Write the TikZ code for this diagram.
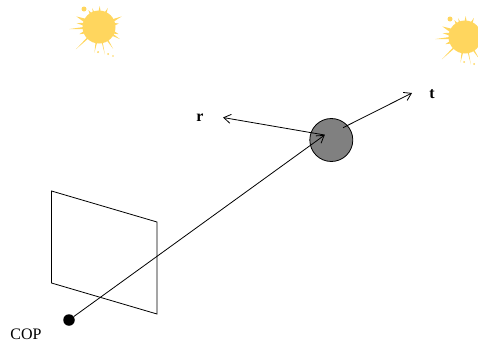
\documentclass[tikz,border=0pt]{standalone}
\usepackage{fontspec}
\setmainfont{Liberation Serif}
\usepackage{xcolor}
\usetikzlibrary{arrows.meta,positioning}
\definecolor{Ink}{HTML}{000000}
\definecolor{Sun}{HTML}{FFD65E}
\definecolor{Ball}{HTML}{808080}

\begin{document}
\begin{tikzpicture}[
    x=1pt, y=-1pt,
    label/.style={inner sep=0pt, font=\fontsize{16}{16}\selectfont},
    ray/.style={-{Straight Barb[length=7pt,width=9pt]}, line width=0.8pt, draw=Ink},
    plane/.style={draw=Ink, line width=0.8pt},
    sphere/.style={circle, draw=Ink, fill=Ball, line width=0.8pt, minimum size=43pt, inner sep=0pt},
    copdot/.style={circle, fill=Ink, minimum size=11.5pt, inner sep=0pt},
    splat/.pic={
      \fill[Sun] (0,0) circle (16.5);
      \foreach \ang/\len/\wid in {176/30/4, 136/32/3, 100/26/3, 78/28/2, 57/26/3, 30/24/4, 335/25/5, 272/21/4, 238/20/4, 205/25/7, 190/23/5, 295/21/4, 250/20/3, 160/21/5, 20/21/5, 350/20/5}
        \fill[Sun] (\ang-\wid:15.5) -- (\ang:\len) -- (\ang+\wid:15.5) -- cycle;
      \fill[Sun] (-15,-18) circle (2.5);
      \fill[Sun] (9,27) circle (1);
      \fill[Sun] (14,29) circle (0.8);
      \fill[Sun] (-1,25) circle (1);
    }
  ]
    \useasboundingbox (0,0) rectangle (478,343);

    \pic at (99,27) {splat};
    \pic at (465,37) {splat};

    \draw[plane] (51.5,191) -- (157,222) -- (157,314) -- (51.5,283) -- cycle;

    \node[sphere] (ball) at (331.3,140) {};
    \node[copdot] (cop) at (69,320) {};
    \node[label] (coplabel) at (26,334) {COP};
    \node[label] (rlabel) at (200,118) {\textbf{r}};
    \node[label] (tlabel) at (432,94) {\textbf{t}};

    \coordinate (hit) at (324.7,135);
    \coordinate (rend) at (223,117.5);
    \coordinate (tstart) at (343,127.7);
    \coordinate (tend) at (412,93);

    \draw[ray] (cop) -- (hit);
    \draw[ray] (hit) -- (rend);
    \draw[ray] (tstart) -- (tend);
  \end{tikzpicture}
\end{document}
